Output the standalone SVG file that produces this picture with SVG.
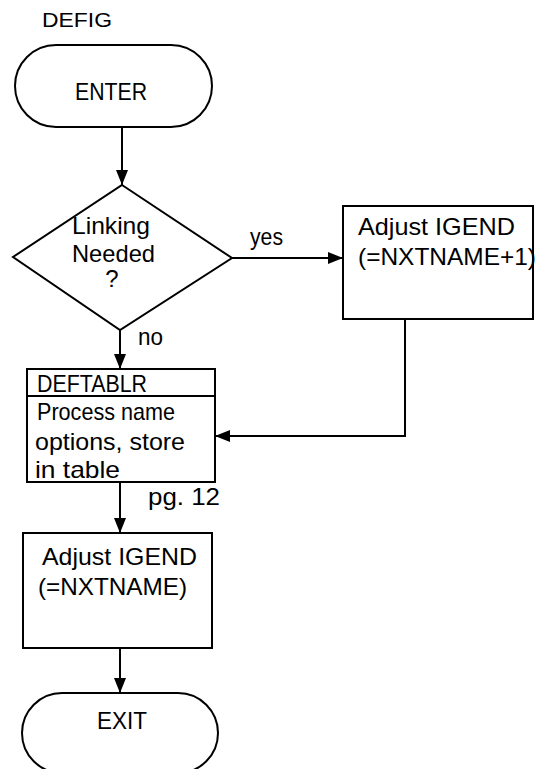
<svg xmlns="http://www.w3.org/2000/svg" width="540" height="769" viewBox="0 0 540 769">
<style>
  .shape{fill:#fff;stroke:#000;stroke-width:2}
  .edge{fill:none;stroke:#000;stroke-width:2}
  text{font-family:"Liberation Sans","DejaVu Sans",sans-serif;font-size:24px;fill:#000}
  .c{text-anchor:middle}
</style>
<defs>
  <marker id="arr" markerUnits="userSpaceOnUse" markerWidth="16" markerHeight="12" refX="15" refY="6" orient="auto">
    <path d="M0,0 L15,6 L0,12 Z" fill="#000"/>
  </marker>
</defs>
<rect width="540" height="769" fill="#fff"/>
<text id="title" x="42" y="27" textLength="70" lengthAdjust="spacingAndGlyphs" style="font-size:21px">DEFIG</text>

<g id="connectors">
  <line class="edge" x1="122" y1="127" x2="122" y2="185" marker-end="url(#arr)"/>
  <line class="edge" x1="232" y1="258" x2="343" y2="258" marker-end="url(#arr)"/>
  <line class="edge" x1="120" y1="330" x2="120" y2="369" marker-end="url(#arr)"/>
  <polyline class="edge" points="405,319 405,436 215,436" marker-end="url(#arr)"/>
  <line class="edge" x1="120" y1="482" x2="120" y2="533" marker-end="url(#arr)"/>
  <line class="edge" x1="120" y1="648" x2="120" y2="693" marker-end="url(#arr)"/>
  <text x="250" y="245" textLength="33" lengthAdjust="spacingAndGlyphs">yes</text>
  <text x="138" y="345" textLength="25" lengthAdjust="spacingAndGlyphs">no</text>
  <text x="148" y="505" textLength="72" lengthAdjust="spacingAndGlyphs">pg. 12</text>
</g>

<g id="enter">
  <rect class="shape" x="15" y="45" width="197" height="82" rx="41" ry="41"/>
  <text x="75" y="100" textLength="72" lengthAdjust="spacingAndGlyphs">ENTER</text>
</g>

<g id="decision">
  <polygon class="shape" points="122,185 232,258 120,330 13,257"/>
  <text x="72" y="234" textLength="78" lengthAdjust="spacingAndGlyphs">Linking</text>
  <text x="72" y="262" textLength="83" lengthAdjust="spacingAndGlyphs">Needed</text>
  <text x="112" y="287" class="c">?</text>
</g>

<g id="adjust1">
  <rect class="shape" x="343" y="206" width="190" height="113"/>
  <text x="358" y="235" textLength="157" lengthAdjust="spacingAndGlyphs">Adjust IGEND</text>
  <text x="358" y="265" textLength="178" lengthAdjust="spacingAndGlyphs">(=NXTNAME+1)</text>
</g>

<g id="deftablr">
  <rect class="shape" x="27" y="369" width="188" height="113"/>
  <line class="edge" x1="27" y1="396" x2="215" y2="396"/>
  <text x="37" y="392" textLength="110" lengthAdjust="spacingAndGlyphs">DEFTABLR</text>
  <text x="37" y="420" textLength="138" lengthAdjust="spacingAndGlyphs">Process name</text>
  <text x="35" y="450" textLength="150" lengthAdjust="spacingAndGlyphs">options, store</text>
  <text x="35" y="478" textLength="85" lengthAdjust="spacingAndGlyphs">in table</text>
</g>

<g id="adjust2">
  <rect class="shape" x="23" y="533" width="189" height="115"/>
  <text x="42" y="565" textLength="155" lengthAdjust="spacingAndGlyphs">Adjust IGEND</text>
  <text x="38" y="595" textLength="149" lengthAdjust="spacingAndGlyphs">(=NXTNAME)</text>
</g>

<g id="exit">
  <rect class="shape" x="22" y="693" width="196" height="80" rx="40" ry="40"/>
  <text x="97" y="729" textLength="50" lengthAdjust="spacingAndGlyphs">EXIT</text>
</g>
</svg>
